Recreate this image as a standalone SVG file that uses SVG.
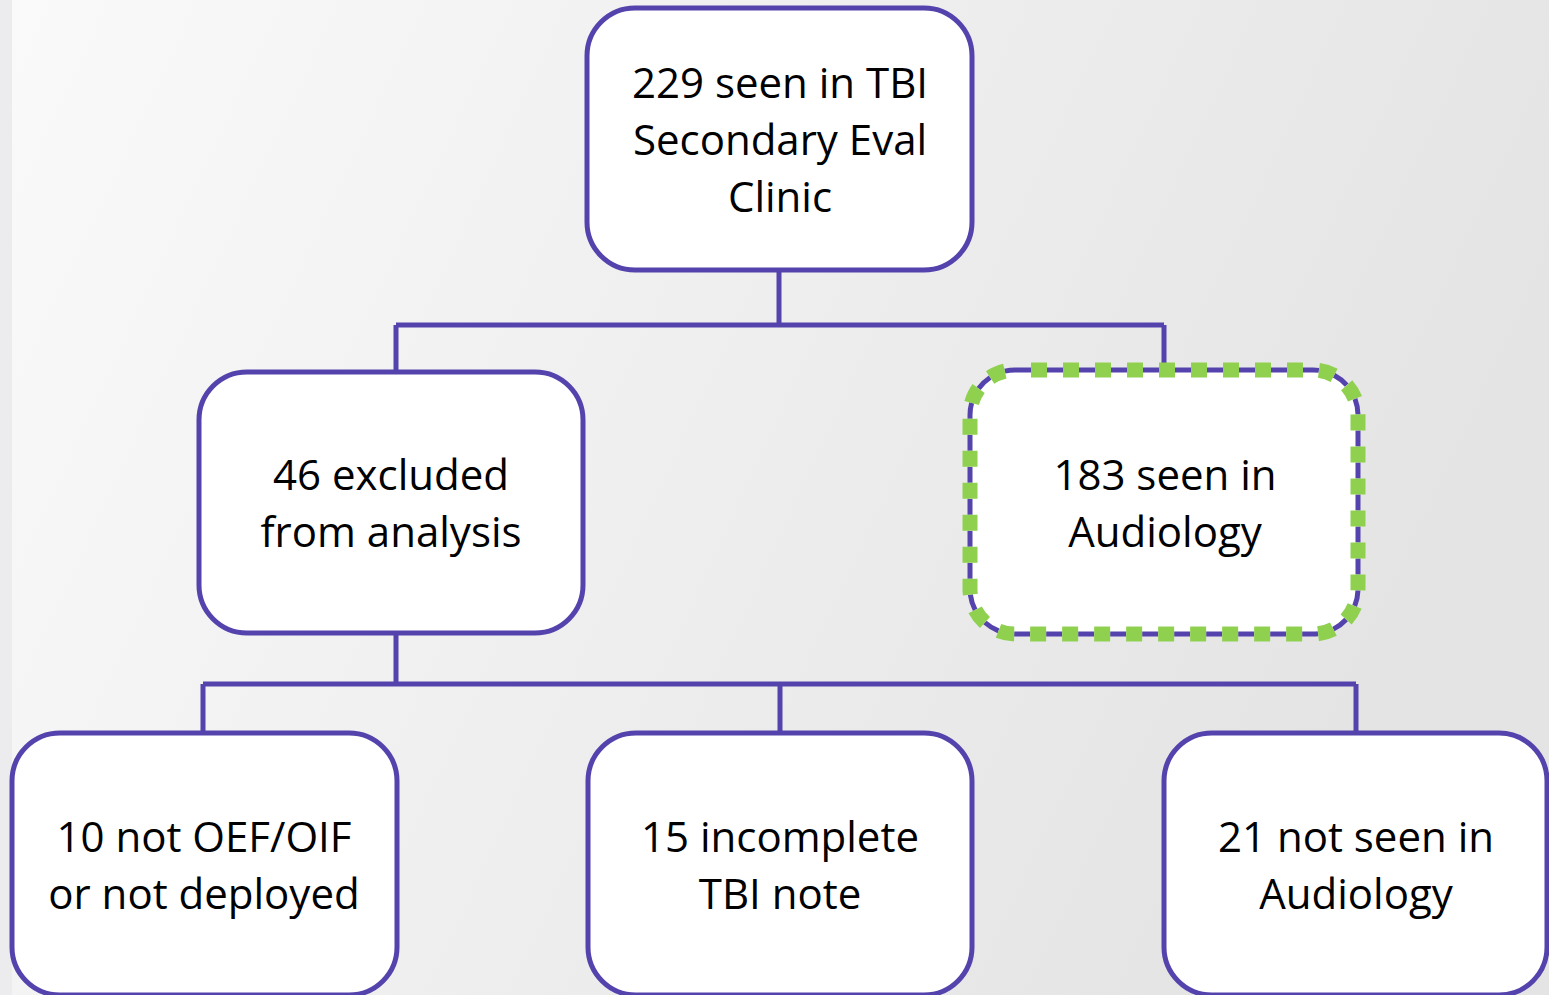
<svg xmlns="http://www.w3.org/2000/svg" width="1549" height="995" viewBox="0 0 1549 995">
<defs>
<linearGradient id="bg" x1="0" y1="0" x2="1" y2="0.3">
<stop offset="0" stop-color="#fafafa"/>
<stop offset="1" stop-color="#e4e4e4"/>
</linearGradient>
<style>
.box{fill:#ffffff;stroke:#5443ac;stroke-width:5}
.conn{fill:none;stroke:#5443ac;stroke-width:5}
.t{font-family:"Open Sans","Liberation Sans",sans-serif;font-size:42px;fill:#000;text-anchor:middle}
.dp{fill:#ffffff;stroke:#5443ac;stroke-width:5;stroke-dasharray:16 16}
.dg{fill:none;stroke:#8fd14f;stroke-width:15;stroke-dasharray:16 16;stroke-dashoffset:16}
</style>
</defs>
<rect x="0" y="0" width="1549" height="995" fill="url(#bg)"/>
<rect x="0" y="0" width="12" height="995" fill="#ececee"/>
<g id="connectors">
<path class="conn" d="M779 270 V325 M396 325 H1164 M396 325 V372 M1164 325 V370"/>
<path class="conn" d="M396 633 V684 M203 684 H1356 M203 684 V733 M780 684 V733 M1356 684 V733"/>
</g>
<g id="n229">
<rect class="box" x="587" y="8" width="385" height="262" rx="48"/>
<text class="t" x="780" y="98">229 seen in TBI</text>
<text class="t" x="780" y="155">Secondary Eval</text>
<text class="t" x="780" y="212">Clinic</text>
</g>
<g id="n46">
<rect class="box" x="199" y="372" width="384" height="261" rx="48"/>
<text class="t" x="391" y="490">46 excluded</text>
<text class="t" x="391" y="547">from analysis</text>
</g>
<g id="n183">
<rect class="dp" x="970" y="370" width="388" height="264" rx="45"/>
<rect class="dg" x="970" y="370" width="388" height="264" rx="45"/>
<text class="t" x="1165" y="490">183 seen in</text>
<text class="t" x="1165" y="547">Audiology</text>
</g>
<g id="n10">
<rect class="box" x="12" y="733" width="385" height="262" rx="48"/>
<text class="t" x="204" y="852">10 not OEF/OIF</text>
<text class="t" x="204" y="909">or not deployed</text>
</g>
<g id="n15">
<rect class="box" x="588" y="733" width="384" height="262" rx="48"/>
<text class="t" x="780" y="852">15 incomplete</text>
<text class="t" x="780" y="909">TBI note</text>
</g>
<g id="n21">
<rect class="box" x="1164" y="733" width="383" height="262" rx="48"/>
<text class="t" x="1356" y="852">21 not seen in</text>
<text class="t" x="1356" y="909">Audiology</text>
</g>
</svg>
